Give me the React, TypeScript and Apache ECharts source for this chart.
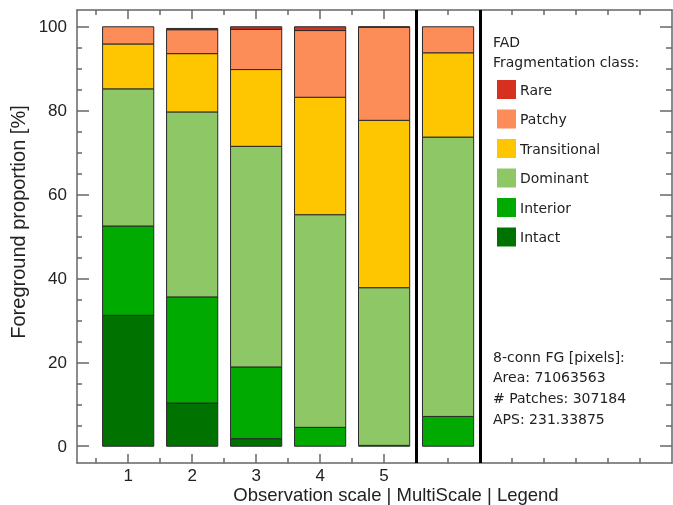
import React, { useEffect, useRef } from "react";
import * as echarts from "echarts";

// Observation scales (x positions); 6 = MultiScale column
const positions = [1, 2, 3, 4, 5, 6];
const scaleTickLabels = [1, 2, 3, 4, 5];
const yTickLabels = [0, 20, 40, 60, 80, 100];

const classNames = ["Intact", "Interior", "Dominant", "Transitional", "Patchy", "Rare"];
const intact = [31.2, 10.3, 1.8, 0, 0, 0];
const interior = [21.3, 25.3, 17.1, 4.5, 0.2, 7.1];
const dominant = [32.7, 44.1, 52.6, 50.7, 37.6, 66.6];
const transitional = [10.7, 13.9, 18.3, 28.0, 39.9, 20.1];
const patchy = [4.1, 5.7, 9.6, 15.9, 22.2, 6.2];
const rare = [0, 0.3, 0.6, 0.9, 0.1, 0];
const classColors = ["#007200", "#00aa00", "#8dc766", "#fec600", "#fc8d59", "#d7301f"];

const statsLines = ["8-conn FG [pixels]:", "Area: 71063563", "# Patches: 307184", "APS: 231.33875"];

export default function App() {
  const ref = useRef<HTMLDivElement>(null);
  useEffect(() => {
    if (!ref.current) return;
    const chart = echarts.init(ref.current, null, { renderer: "svg" });
    const values = [intact, interior, dominant, transitional, patchy, rare];
    const cum = positions.map(() => 0);
    const series: any[] = values.map((arr, ci) => {
      const data = positions.map((x, i) => {
        const b = cum[i];
        const t = b + arr[i];
        cum[i] = t;
        return [x, b, t];
      });
      const color = classColors[ci];
      return {
        type: "custom",
        name: classNames[ci],
        xAxisIndex: 0,
        yAxisIndex: 0,
        itemStyle: { color },
        encode: { x: 0, y: [1, 2] },
        data,
        renderItem: (params: any, api: any) => {
          const x = api.value(0);
          const b = api.value(1);
          const t = api.value(2);
          if (t - b <= 0) return null;
          const p1 = api.coord([x - 0.4, t]);
          const p2 = api.coord([x + 0.4, b]);
          return {
            type: "rect",
            shape: { x: p1[0], y: p1[1], width: p2[0] - p1[0], height: p2[1] - p1[1] },
            style: { fill: color, stroke: "#2a2a2a", lineWidth: 1 },
          };
        },
      };
    });
    series.push({
      type: "line",
      name: "separators",
      data: [],
      xAxisIndex: 0,
      yAxisIndex: 0,
      markLine: {
        silent: true,
        symbol: ["none", "none"],
        label: { show: false },
        lineStyle: { color: "#000", width: 3, type: "solid" },
        data: [{ xAxis: 5.5 }, { xAxis: 6.5 }],
      },
    });

    const axisColor = "#666";
    const minorX = [0.5, 1.5, 2.5, 3.5, 4.5, 5.5, 6, 6.5, 7, 7.5, 8, 8.5, 9];
    const minorY = [5, 10, 15, 25, 30, 35, 45, 50, 55, 65, 70, 75, 85, 90, 95];
    const xBase = (pos: string, showLine: boolean, tickVals: number[], len: number, labels: boolean) => ({
      type: "value",
      position: pos,
      min: 0.2,
      max: 9.5,
      splitLine: { show: false },
      axisLine: { show: showLine, onZero: false, lineStyle: { color: axisColor, width: 1.5 } },
      axisTick: { show: true, inside: true, length: len, customValues: tickVals, lineStyle: { color: axisColor, width: 1.5 } },
      axisLabel: labels
        ? { show: true, customValues: scaleTickLabels, margin: 4, fontFamily: "Liberation Sans", fontSize: 17, color: "#222" }
        : { show: false },
    });
    const yBase = (pos: string, showLine: boolean, tickVals: number[], len: number, labels: boolean) => ({
      type: "value",
      position: pos,
      min: -4,
      max: 104,
      splitLine: { show: false },
      axisLine: { show: showLine, onZero: false, lineStyle: { color: axisColor, width: 1.5 } },
      axisTick: { show: true, inside: true, length: len, customValues: tickVals, lineStyle: { color: axisColor, width: 1.5 } },
      axisLabel: labels
        ? { show: true, customValues: yTickLabels, margin: 10, fontFamily: "Liberation Sans", fontSize: 17, color: "#222" }
        : { show: false },
    });

    const legendTextStyle = { fontFamily: "DejaVu Sans", fontSize: 14, fill: "#222" };

    chart.setOption({
      animation: false,
      grid: { left: 77, right: 1, top: 10, bottom: 42, containLabel: false },
      xAxis: [
        xBase("bottom", true, scaleTickLabels, 9, true),
        xBase("bottom", false, minorX, 5, false),
        xBase("top", true, scaleTickLabels, 9, false),
        xBase("top", false, minorX, 5, false),
      ],
      yAxis: [
        yBase("left", true, yTickLabels, 12, true),
        yBase("left", false, minorY, 5, false),
        yBase("right", true, yTickLabels, 12, false),
        yBase("right", false, minorY, 6, false),
      ],
      legend: {
        orient: "vertical",
        left: 497,
        top: 80,
        padding: 0,
        itemWidth: 19,
        itemHeight: 19,
        itemGap: 10.5,
        icon: "rect",
        selectedMode: false,
        itemStyle: { borderWidth: 0 },
        textStyle: { fontFamily: "DejaVu Sans", fontSize: 14, color: "#222", padding: [0, 0, 0, -1] },
        data: ["Rare", "Patchy", "Transitional", "Dominant", "Interior", "Intact"],
      },
      graphic: [
        { type: "text", left: 493, top: 35, style: { ...legendTextStyle, text: "FAD" } },
        { type: "text", left: 493, top: 55, style: { ...legendTextStyle, text: "Fragmentation class:" } },
        ...statsLines.map((s, i) => ({
          type: "text",
          left: 493,
          top: [350, 370, 391, 412][i],
          style: { ...legendTextStyle, text: s },
        })),
        {
          type: "text",
          x: 396,
          y: 494,
          style: {
            text: "Observation scale | MultiScale | Legend",
            fontFamily: "Liberation Sans",
            fontSize: 18.5,
            fill: "#222",
            align: "center",
            verticalAlign: "middle",
          },
        },
        {
          type: "text",
          x: 18,
          y: 222,
          rotation: Math.PI / 2,
          style: {
            text: "Foreground proportion [%]",
            fontFamily: "Liberation Sans",
            fontSize: 20,
            fill: "#222",
            align: "center",
            verticalAlign: "middle",
          },
        },
      ],
      series,
    });
    return () => chart.dispose();
  }, []);
  return <div ref={ref} style={{ position: "fixed", left: 0, top: 0, width: 673, height: 505 }} />;
}
